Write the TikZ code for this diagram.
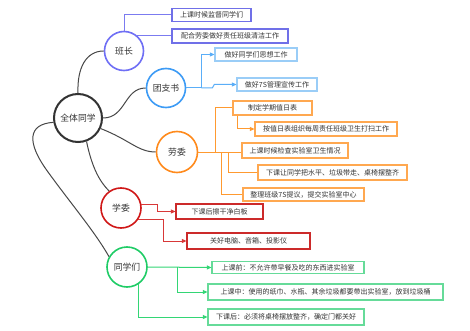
\documentclass[tikz,border=0pt]{standalone}
\usepackage{fontspec}
\setmainfont{Noto Sans CJK SC}
\usetikzlibrary{arrows.meta,calc}
\definecolor{cMain}{HTML}{333333}
\definecolor{cB}{HTML}{6F6FF5}
\definecolor{cBl}{HTML}{7B7BF0}
\definecolor{cBb}{HTML}{7070E8}
\definecolor{cT}{HTML}{3D9BF5}
\definecolor{cTl}{HTML}{5AAEF8}
\definecolor{cTb}{HTML}{9ACDF7}
\definecolor{cL}{HTML}{FF8A1C}
\definecolor{cLl}{HTML}{FF9A30}
\definecolor{cLb}{HTML}{FFA850}
\definecolor{cX}{HTML}{D01818}
\definecolor{cXl}{HTML}{D83838}
\definecolor{cXb}{HTML}{CC2A2A}
\definecolor{cG}{HTML}{1FCC66}
\definecolor{cGl}{HTML}{33D675}
\definecolor{cGb}{HTML}{66DB99}
\begin{document}
\begin{tikzpicture}[x=1pt,y=-1pt,
  circ/.style={circle,draw,line width=1.6pt,inner sep=0pt,minimum size=39pt,font=\fontsize{8.8}{10}\selectfont,text=cMain},
  bx/.style={draw,line width=1.2pt,inner sep=0pt,minimum height=14pt,font=\fontsize{7}{8}\selectfont,text=cMain,fill=white},
  lk/.style={line width=1pt},
  tip/.style={-{Triangle[length=4.5pt,width=4pt]}},
  conn/.style={draw=cMain!90,line width=1pt}]
\useasboundingbox[fill=white] (0,0) rectangle (470,331);

% circles
\node[circ,draw=cMain,line width=2pt,minimum size=48pt] (m) at (78,118) {全体同学};
\node[circ,draw=cB] (bz) at (124,51) {班长};
\node[circ,draw=cT] (tz) at (166,88) {团支书};
\node[circ,draw=cL,minimum size=41pt] (lz) at (177,152) {劳委};
\node[circ,draw=cX,minimum size=40pt] (xz) at (121,208) {学委};
\node[circ,draw=cG,minimum size=40pt] (gz) at (127,267) {同学们};

% main connectors
\draw[conn] (m.north) .. controls (77,68) and (86,51) .. (bz.west);
\draw[conn] (m.east) .. controls (126,118) and (124,88) .. (tz.west);
\draw[conn] (m.-25) .. controls (130,140) and (138,152) .. (lz.west);
\draw[conn] (m.-70) .. controls (92,168) and (100,182) .. (xz.125);
\draw[conn] (m.190) .. controls (28,124) and (26,142) .. (48,172) .. controls (72,205) and (95,232) .. (gz.150);

% boxes
\node[bx,draw=cBb,minimum width=79pt,minimum height=13pt] (b1) at (211.5,15) {上课时候监督同学们};
\node[bx,draw=cBb,minimum width=116pt] (b2) at (230,36) {配合劳委做好责任班级清洁工作};
\node[bx,draw=cTb,minimum width=82pt,minimum height=13pt] (t1) at (256,54.5) {做好同学们思想工作};
\node[bx,draw=cTb,minimum width=80pt,minimum height=13pt] (t2) at (277,84.5) {做好7S管理宣传工作};
\node[bx,draw=cLb,minimum width=79pt] (l1) at (272.5,108) {制定学期值日表};
\node[bx,draw=cLb,minimum width=142pt] (l2) at (326,129) {按值日表组织每周责任班级卫生打扫工作};
\node[bx,draw=cLb,minimum width=106pt,minimum height=15pt] (l3) at (295,150.5) {上课时候检查实验室卫生情况};
\node[bx,draw=cLb,minimum width=149pt,minimum height=15pt] (l4) at (332.5,172.5) {下课让同学把水平、垃圾带走、桌椅摆整齐};
\node[bx,draw=cLb,minimum width=121pt,minimum height=13pt] (l5) at (303.5,194.5) {整理班级7S提议，提交实验室中心};
\node[bx,draw=cXb,minimum width=87pt,minimum height=15pt] (x1) at (219.5,211.5) {下课后擦干净白板};
\node[bx,draw=cXb,minimum width=123pt,minimum height=16pt] (x2) at (248.5,241) {关好电脑、音箱、投影仪};
\node[bx,draw=cGb,minimum width=152pt,minimum height=12pt] (g1) at (288,267.5) {上课前：不允许带早餐及吃的东西进实验室};
\node[bx,draw=cGb,minimum width=235pt,minimum height=16pt] (g2) at (325.5,292) {上课中：使用的纸巾、水瓶、其余垃圾都要带出实验室，放到垃圾桶};
\node[bx,draw=cGb,minimum width=156pt,minimum height=16pt] (g3) at (286,317) {下课后：必须将桌椅摆放整齐，确定门都关好};

% 班长 branches
\draw[lk,cBl] (bz.north) |- (b1.west);
\draw[lk,cBl] (bz.50) -- (bz.50 -| b2.west);

% 团支书 branches
\coordinate (tj) at ($(tz.east)+(15,0)$);
\draw[lk,cTl,tip] (tz.east) -- (tj) |- (t1.west);
\draw[lk,cTl,tip] (tj) -- ++(11,0) -- ++(2,-3.5) -- (t2.west);

% 劳委 branches
\coordinate (la) at ($(lz.east)+(17,0)$);
\coordinate (lb) at ($(lz.east)+(23,0)$);
\coordinate (lc) at ($(lz.east)+(30,0)$);
\draw[lk,cLl] (lz.east) -- (lz.east -| l3.west);
\draw[lk,cLl] (la) |- (l1.west);
\draw[lk,cLl] (lb) |- (l5.west);
\draw[lk,cLl] (lc) |- (l4.west);
\draw[lk,cLl,tip] ($(l1.south west)+(5,0)$) |- (l2.west);

% 学委 branches
\draw[lk,cXl,tip] (xz.10) -- ++(16,0) |- (x1.west);
\draw[lk,cXl,tip] (xz.-35) -- ++(25,0) |- (x2.west);

% 同学们 branches
\draw[lk,cGl,tip] (gz.east) -- (g1.west);
\draw[lk,cGl,tip] ($(gz.east)+(30,0)$) |- (g2.west);
\draw[lk,cGl,tip] (gz.-57) |- (g3.west);
\end{tikzpicture}
\end{document}
